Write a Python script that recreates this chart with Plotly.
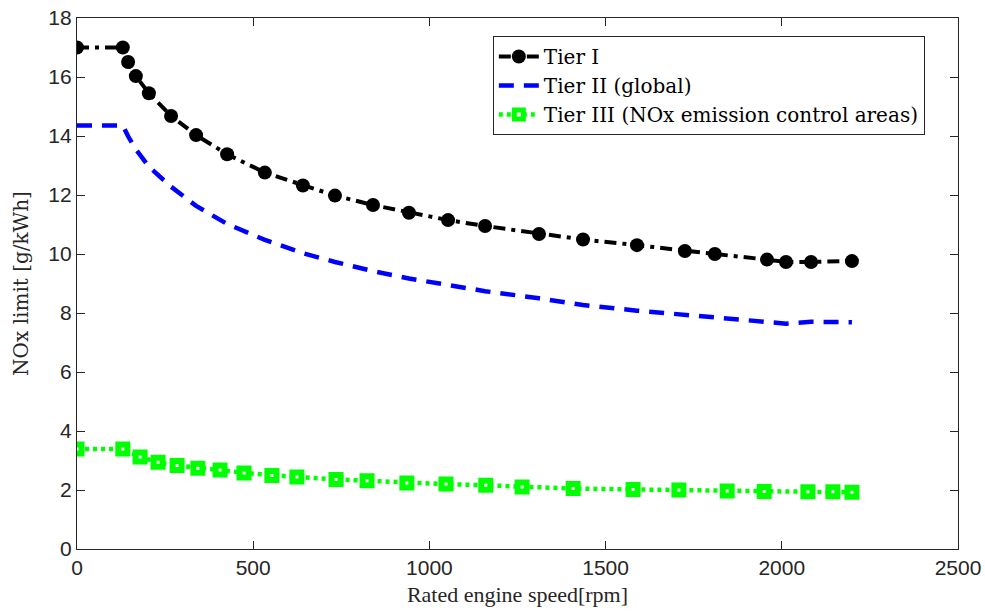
import plotly.graph_objects as go

speed = [0, 130, 145, 167, 204, 267, 338, 426, 533, 641, 732, 840, 942, 1053,
         1158, 1311, 1436, 1589, 1725, 1810, 1958, 2012, 2083, 2199]
tier1 = [17.0, 17.0, 16.51, 16.03, 15.45, 14.68, 14.03, 13.38, 12.76, 12.32,
         11.98, 11.66, 11.40, 11.15, 10.95, 10.68, 10.49, 10.30, 10.10, 10.0,
         9.81, 9.73, 9.73, 9.76]
tier2 = [14.36, 14.36, 13.99, 13.55, 12.96, 12.28, 11.63, 11.02, 10.48, 10.03,
         9.73, 9.42, 9.17, 8.94, 8.74, 8.50, 8.27, 8.08, 7.93, 7.84, 7.70,
         7.64, 7.70, 7.69]
speed3 = [0, 130, 179, 230, 284, 343, 406, 474, 553, 624, 735, 823, 936, 1047,
          1160, 1263, 1408, 1578, 1708, 1845, 1950, 2074, 2145, 2199]
tier3 = [3.39, 3.39, 3.12, 2.94, 2.83, 2.74, 2.68, 2.58, 2.49, 2.44, 2.36,
         2.31, 2.24, 2.20, 2.16, 2.10, 2.05, 2.02, 2.00, 1.97, 1.95, 1.94,
         1.94, 1.92]

names = ["Tier I", "Tier II (global)", "Tier III (NOx emission control areas)"]
xticks = [0, 500, 1000, 1500, 2000, 2500]
yticks = [0, 2, 4, 6, 8, 10, 12, 14, 16, 18]

fig = go.Figure()
fig.add_trace(go.Scatter(
    x=speed, y=tier1, name=names[0], mode="lines+markers",
    line=dict(color="black", width=4, dash="12px,6px,4px,6px"),
    marker=dict(symbol="circle", size=14, color="black")))
fig.add_trace(go.Scatter(
    x=speed, y=tier2, name=names[1], mode="lines",
    line=dict(color="#0000ff", width=4.5, dash="15px,10px")))
fig.add_trace(go.Scatter(
    x=speed3, y=tier3, name=names[2], mode="lines+markers",
    line=dict(color="#00ff00", width=4.5, dash="4px,4px"),
    marker=dict(symbol="square", size=9, color="white",
                line=dict(color="#00ff00", width=6))))

axis_common = dict(showgrid=False, zeroline=False, showline=True, mirror="ticks",
                   linecolor="#262626", linewidth=1.2, ticks="inside", ticklen=8,
                   tickcolor="#262626", automargin=False,
                   tickfont=dict(family="Liberation Sans, Arial", size=21, color="#262626"))

fig.update_layout(
    width=985, height=614,
    margin=dict(l=77, r=27, t=18, b=65),
    paper_bgcolor="white", plot_bgcolor="white",
    showlegend=True,
    legend=dict(x=0.472, y=0.966, xanchor="left", yanchor="top",
                bgcolor="white", bordercolor="#262626", borderwidth=1,
                font=dict(family="DejaVu Serif", size=20, color="black"),
                tracegroupgap=0, itemwidth=40),
    xaxis=dict(range=[0, 2500], tickvals=xticks,
               title=dict(text="Rated engine speed[rpm]", standoff=8,
                          font=dict(family="Liberation Serif, Times New Roman", size=22, color="#262626")),
               **axis_common),
    yaxis=dict(range=[0, 18], tickvals=yticks,
               title=dict(text="NOx limit [g/kWh]", standoff=14,
                          font=dict(family="DejaVu Serif", size=20, color="#262626")),
               **axis_common),
)

fig.write_html("out.html")
